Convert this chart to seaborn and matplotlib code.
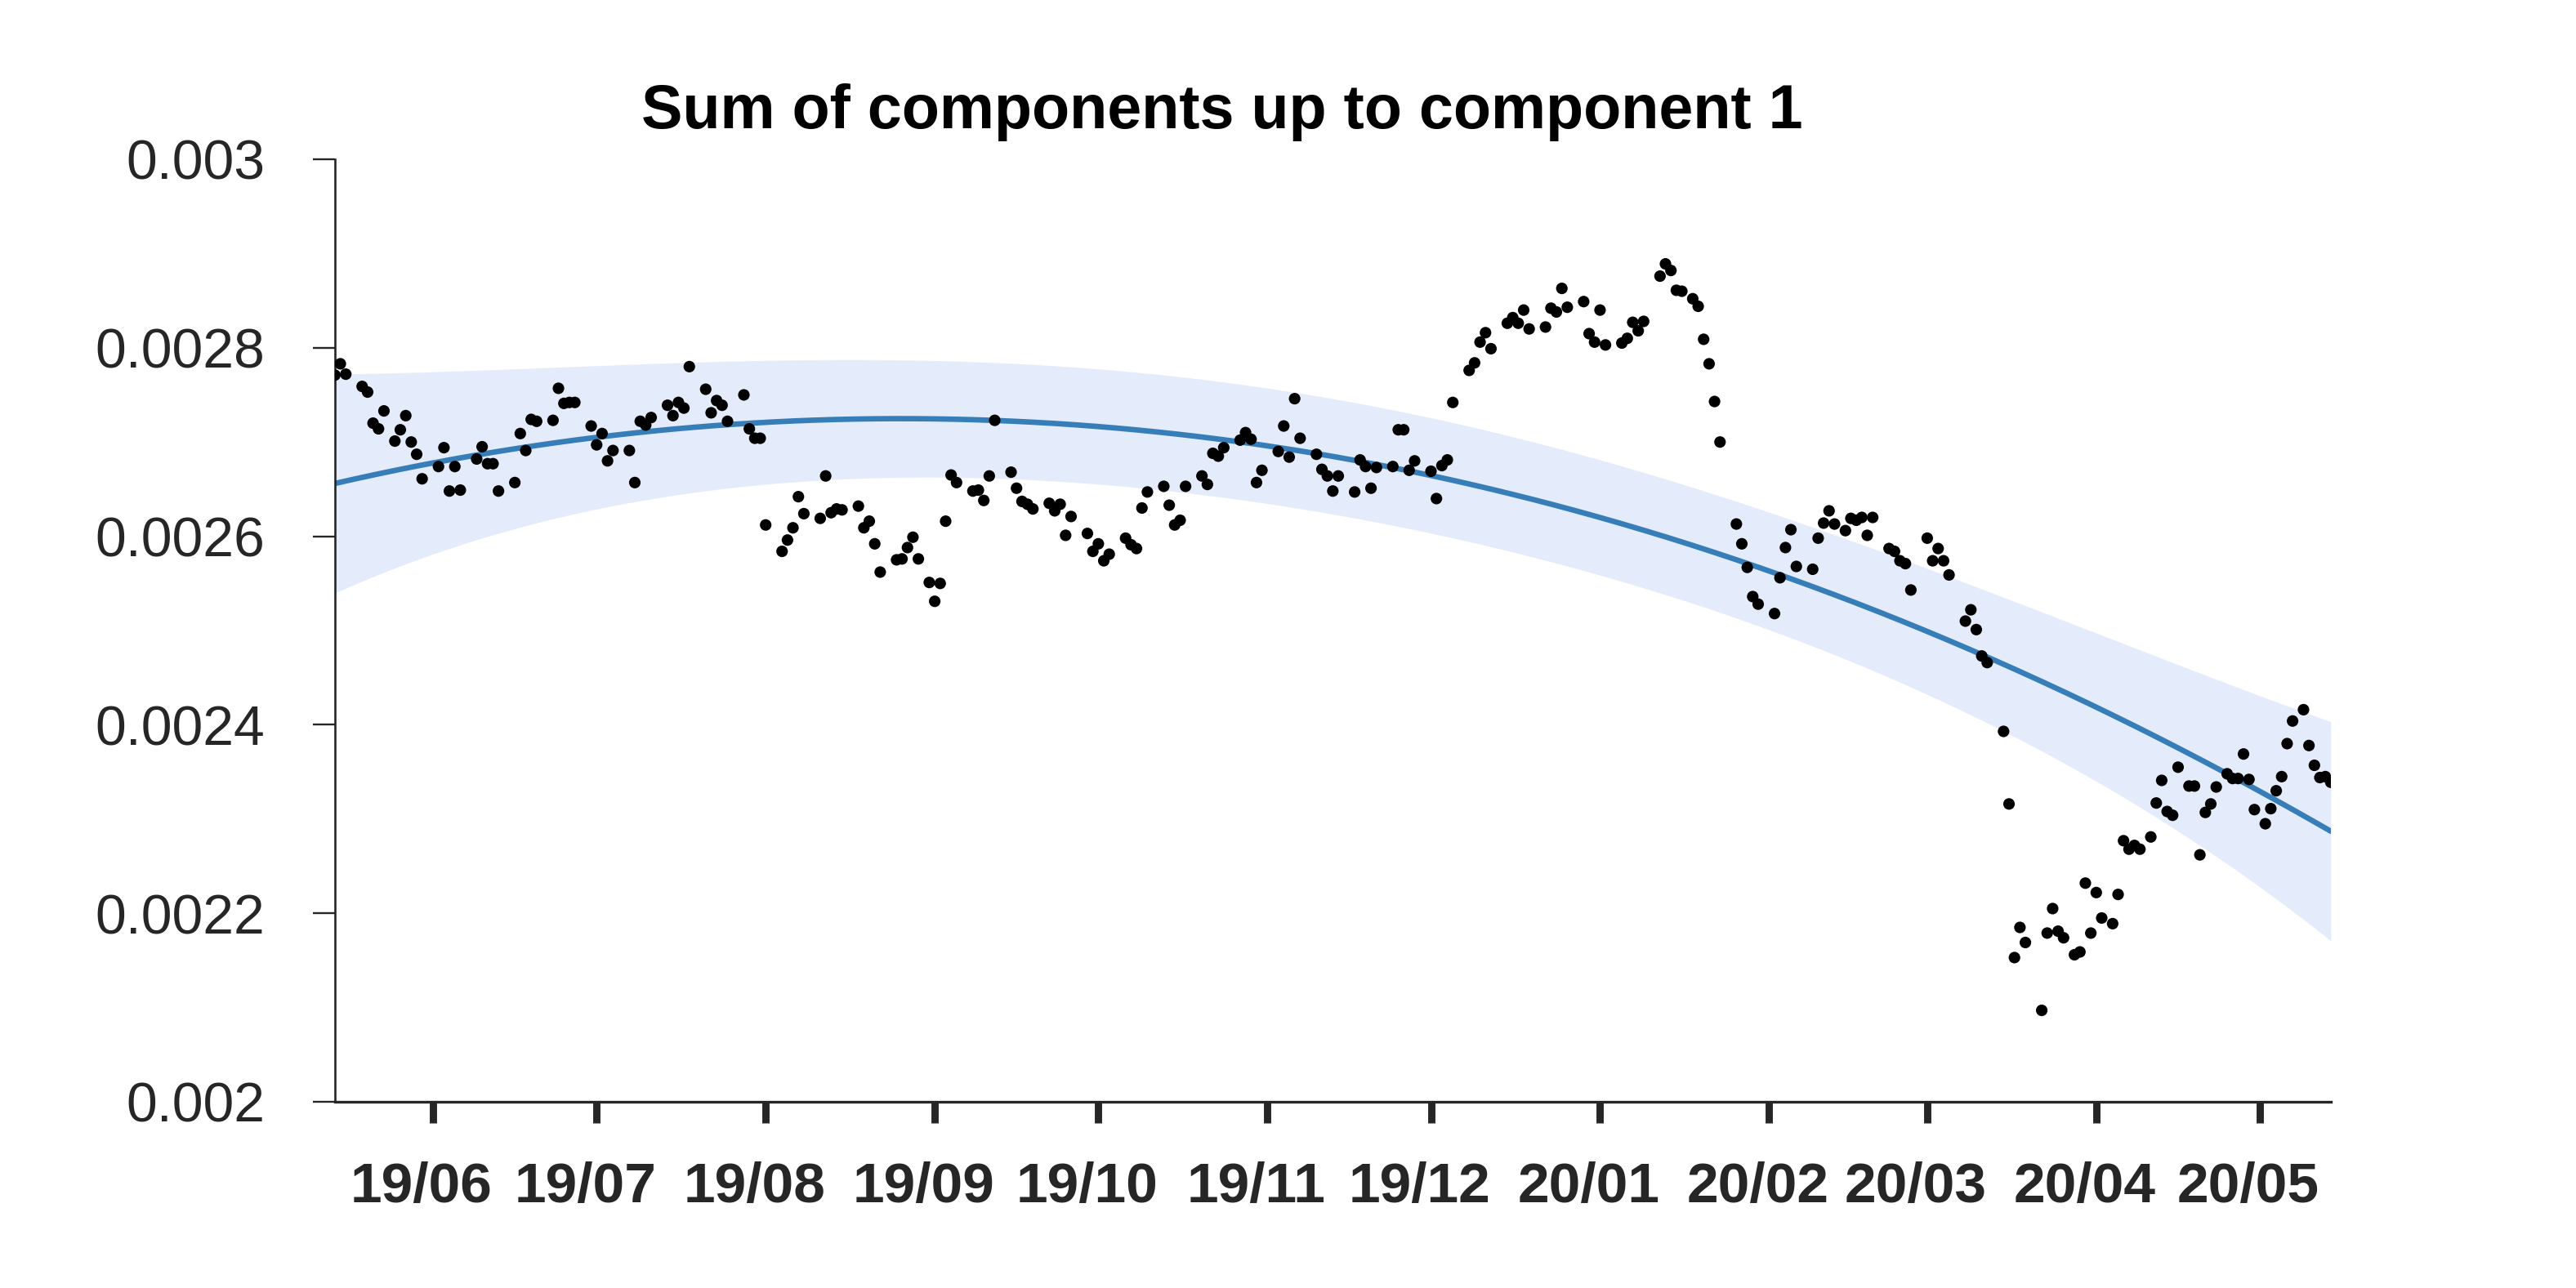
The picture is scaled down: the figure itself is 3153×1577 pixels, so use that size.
import numpy as np
import pandas as pd
import matplotlib
matplotlib.use("Agg")
import matplotlib.pyplot as plt
import matplotlib.dates as mdates
import matplotlib.transforms as mtransforms
from matplotlib.ticker import FuncFormatter, FixedLocator
import seaborn as sns

# ---------------- data ----------------
start_date = "2019-05-14"
day_offsets = [
    0, 1, 2, 5, 6, 7, 8, 9, 11, 12, 13, 14, 15, 16, 19, 20, 21, 22, 23, 26,
    27, 28, 29, 30, 33, 34, 35, 36, 37, 40, 41, 42, 43, 44, 47, 48, 49, 50, 51, 54,
    55, 56, 57, 58, 61, 62, 63, 64, 65, 68, 69, 70, 71, 72, 75, 76, 77, 78, 79, 82,
    83, 84, 85, 86, 89, 90, 91, 92, 93, 96, 97, 98, 99, 100, 103, 104, 105, 106, 107, 109,
    110, 111, 112, 113, 114, 117, 118, 119, 120, 121, 124, 125, 126, 127, 128, 131, 132, 133, 134, 135,
    138, 139, 140, 141, 142, 145, 146, 147, 148, 149, 152, 153, 154, 155, 156, 159, 160, 161, 162, 163,
    166, 167, 168, 169, 170, 173, 174, 175, 176, 177, 180, 181, 182, 183, 184, 187, 188, 189, 190, 191,
    194, 195, 196, 197, 198, 201, 202, 203, 204, 205, 208, 209, 210, 211, 212, 215, 216, 217, 218, 219,
    222, 223, 224, 225, 226, 229, 230, 231, 232, 233, 236, 237, 238, 239, 240, 243, 244, 245, 246, 247,
    249, 250, 251, 252, 253, 254, 257, 258, 259, 260, 261, 264, 265, 266, 267, 268, 271, 272, 273, 274,
    275, 277, 278, 279, 280, 281, 282, 285, 286, 287, 288, 289, 292, 293, 294, 295, 296, 299, 300, 301,
    302, 303, 306, 307, 308, 309, 310, 313, 314, 315, 316, 317, 319, 320, 321, 322, 323, 324, 326, 327,
    328, 329, 330, 331, 333, 334, 335, 336, 337, 338, 340, 341, 342, 343, 344, 345, 347, 348, 349, 350,
    351, 352, 354, 355, 356, 357, 358, 359, 361, 362, 363, 364, 365, 366,
]
values = [
    0.002771, 0.002783, 0.002772, 0.002759, 0.002753, 0.002720, 0.002714, 0.002733, 0.002701, 0.002713,
    0.002728, 0.002700, 0.002687, 0.002661, 0.002674, 0.002694, 0.002648, 0.002674, 0.002649, 0.002682,
    0.002695, 0.002677, 0.002677, 0.002648, 0.002657, 0.002709, 0.002691, 0.002724, 0.002722, 0.002723,
    0.002757, 0.002741, 0.002742, 0.002742, 0.002717, 0.002697, 0.002709, 0.002680, 0.002691, 0.002691,
    0.002657, 0.002722, 0.002718, 0.002726, 0.002739, 0.002728, 0.002742, 0.002736, 0.002780, 0.002756,
    0.002731, 0.002744, 0.002739, 0.002722, 0.002750, 0.002714, 0.002704, 0.002704, 0.002612, 0.002584,
    0.002596, 0.002609, 0.002642, 0.002624, 0.002619, 0.002664, 0.002625, 0.002629, 0.002628, 0.002632,
    0.002609, 0.002616, 0.002592, 0.002562, 0.002575, 0.002576, 0.002588, 0.002599, 0.002576, 0.002551,
    0.002531, 0.002550, 0.002616, 0.002665, 0.002657, 0.002648, 0.002649, 0.002638, 0.002664, 0.002723,
    0.002668, 0.002651, 0.002637, 0.002634, 0.002629, 0.002635, 0.002627, 0.002634, 0.002601, 0.002621,
    0.002603, 0.002584, 0.002592, 0.002574, 0.002581, 0.002598, 0.002591, 0.002587, 0.002630, 0.002647,
    0.002653, 0.002633, 0.002612, 0.002617, 0.002653, 0.002664, 0.002655, 0.002688, 0.002685, 0.002694,
    0.002702, 0.002710, 0.002703, 0.002657, 0.002670, 0.002690, 0.002717, 0.002684, 0.002746, 0.002704,
    0.002687, 0.002671, 0.002664, 0.002648, 0.002664, 0.002647, 0.002681, 0.002674, 0.002651, 0.002673,
    0.002674, 0.002713, 0.002713, 0.002670, 0.002680, 0.002669, 0.002640, 0.002675, 0.002681, 0.002742,
    0.002776, 0.002784, 0.002806, 0.002816, 0.002799, 0.002826, 0.002832, 0.002826, 0.002840, 0.002820,
    0.002822, 0.002842, 0.002838, 0.002863, 0.002843, 0.002849, 0.002815, 0.002806, 0.002840, 0.002803,
    0.002805, 0.002810, 0.002827, 0.002818, 0.002828, 0.002876, 0.002889, 0.002882, 0.002861, 0.002860,
    0.002852, 0.002844, 0.002809, 0.002783, 0.002743, 0.002700, 0.002613, 0.002592, 0.002567, 0.002536,
    0.002528, 0.002518, 0.002556, 0.002588, 0.002607, 0.002568, 0.002565, 0.002598, 0.002614, 0.002627,
    0.002613, 0.002606, 0.002619, 0.002617, 0.002620, 0.002601, 0.002620, 0.002587, 0.002584, 0.002574,
    0.002571, 0.002543, 0.002598, 0.002574, 0.002587, 0.002574, 0.002559, 0.002510, 0.002522, 0.002501,
    0.002473, 0.002466, 0.002393, 0.002316, 0.002153, 0.002185, 0.002169, 0.002097, 0.002179, 0.002205,
    0.002181, 0.002174, 0.002156, 0.002159, 0.002232, 0.002179, 0.002222, 0.002195, 0.002189, 0.002220,
    0.002277, 0.002268, 0.002272, 0.002268, 0.002281, 0.002317, 0.002341, 0.002308, 0.002304, 0.002355,
    0.002335, 0.002335, 0.002262, 0.002307, 0.002316, 0.002334, 0.002348, 0.002343, 0.002343, 0.002369,
    0.002342, 0.002310, 0.002295, 0.002311, 0.002330, 0.002345, 0.002380, 0.002404, 0.002416, 0.002378,
    0.002357, 0.002344, 0.002345, 0.002339,
]

# fitted trend and its band at these day offsets
trend_offsets = [0, 19, 34, 49, 62, 89, 104, 122, 139, 159, 181, 210, 242, 269, 302, 334, 366]
trend_center = [0.002658, 0.002679, 0.002693, 0.002704, 0.002713, 0.002722, 0.002724, 0.002723,
                0.002718, 0.002707, 0.002687, 0.002655, 0.002604, 0.002548, 0.002473, 0.002386,
                0.002289]
band_half = [0.0001155, 0.000099, 0.0000875, 0.000077, 0.0000675, 0.000064, 0.000062, 0.000061,
             0.000061, 0.000061, 0.0000615, 0.000062, 0.0000615, 0.000064, 0.0000675, 0.000083,
             0.000115]

title_text = "Sum of components up to component 1"
y_tick_values = [0.002, 0.0022, 0.0024, 0.0026, 0.0028, 0.003]

# ---------------- style ----------------
sns.set_theme(style="ticks")
plt.rcParams["font.family"] = ["Liberation Sans", "DejaVu Sans"]
dark = "#262626"

base = pd.to_datetime(start_date)
df = pd.DataFrame({"date": base + pd.to_timedelta(day_offsets, unit="D"),
                   "value": values})

# smooth the read trend (cubic) and band half-width (even quartic around the middle)
tk = np.asarray(trend_offsets, dtype=float)
mid = 0.5 * (tk.min() + tk.max())
half_span = 0.5 * (tk.max() - tk.min())
uk = (tk - mid) / half_span
c_center = np.polyfit(uk, np.asarray(trend_center), 3)
c_half = np.polyfit(uk ** 2, np.asarray(band_half), 2)
tg = np.linspace(tk.min(), tk.max(), 600)
ug = (tg - mid) / half_span
fit = np.polyval(c_center, ug)
hw = np.polyval(c_half, ug ** 2)
trend_df = pd.DataFrame({"date": base + pd.to_timedelta(tg, unit="D"),
                         "fit": fit, "lo": fit - hw, "hi": fit + hw})

fig = plt.figure(figsize=(15.765, 7.885), dpi=200)
ax = fig.add_axes([0.1300, 0.14458, 0.7748, 0.73177])

ax.fill_between(trend_df["date"], trend_df["lo"], trend_df["hi"], color="#E4ECFC",
                linewidth=0, zorder=1)
sns.lineplot(data=trend_df, x="date", y="fit", color="#377EB8", linewidth=2.4,
             ax=ax, zorder=2)
sns.scatterplot(data=df, x="date", y="value", color="black", s=26,
                edgecolor="none", linewidth=0, ax=ax, zorder=3)

ax.set_xlim(df["date"].iloc[0], df["date"].iloc[-1])
ax.set_ylim(0.002, 0.003)
ax.set_xlabel("")
ax.set_ylabel("")

ax.xaxis.set_major_locator(mdates.MonthLocator())
ax.xaxis.set_major_formatter(mdates.DateFormatter("%y/%m"))
ax.yaxis.set_major_locator(FixedLocator(y_tick_values))
ax.yaxis.set_major_formatter(FuncFormatter(lambda v, p: "%g" % v))

sns.despine(ax=ax)
ax.spines["left"].set_linewidth(0.95)
ax.spines["bottom"].set_linewidth(1.2)
ax.spines["left"].set_color(dark)
ax.spines["bottom"].set_color(dark)

ax.tick_params(axis="y", direction="out", length=9.7, width=0.85, color=dark,
               labelsize=24.5, labelcolor=dark, pad=21)
ax.tick_params(axis="x", direction="out", length=9.4, width=3.2, color=dark,
               labelsize=25, labelcolor=dark, pad=17)
shift = mtransforms.ScaledTranslation(-14 / 200, 0, fig.dpi_scale_trans)
for lab in ax.get_xticklabels():
    lab.set_fontweight("bold")
    lab.set_transform(lab.get_transform() + shift)

fig.text(0.249, 0.9004, title_text, ha="left", va="baseline", fontsize=27.2,
         fontweight="bold", color="black")

fig.savefig("out.png", dpi=200)
